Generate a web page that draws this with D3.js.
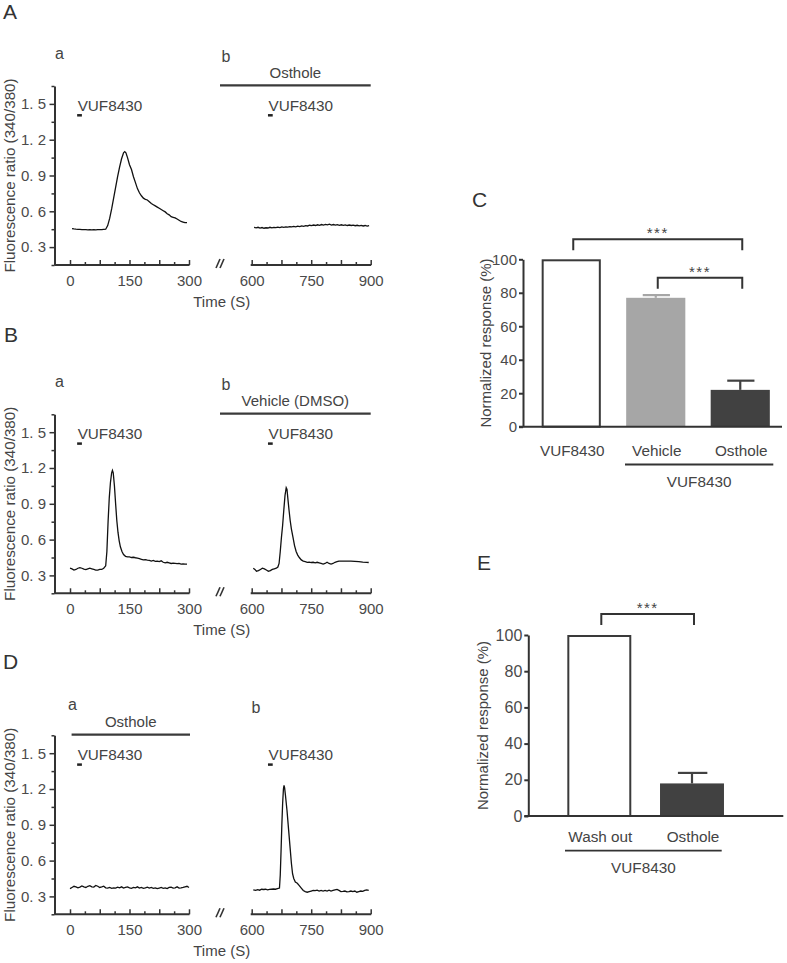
<!DOCTYPE html>
<html><head><meta charset="utf-8">
<script src="https://cdn.jsdelivr.net/npm/d3@7"></script>
<style>
body{margin:0;background:#fff}
text{font-family:"Liberation Sans",Arial,sans-serif;fill:#444}
</style>
</head><body>
<svg id="fig" width="787" height="963"></svg>
<script>
// ---------------- DATA ----------------
// Trace panels: [time (s), fluorescence ratio 340/380]
const traceAa = [[5,0.455],[10,0.452],[15,0.450],[20,0.449],[25,0.448],[30,0.447],[35,0.446],[40,0.446],[45,0.445],[50,0.446],[55,0.445],[60,0.446],[65,0.445],[70,0.446],[75,0.447],[80,0.446],[85,0.448],[90,0.450],[95,0.48],[100,0.54],[105,0.62],[110,0.71],[115,0.80],[120,0.89],[125,0.97],[130,1.04],[135,1.09],[138,1.10],[141,1.09],[145,1.05],[150,0.99],[155,0.95],[160,0.89],[165,0.84],[170,0.79],[175,0.755],[180,0.73],[185,0.71],[190,0.70],[195,0.695],[200,0.68],[205,0.665],[210,0.655],[215,0.645],[220,0.635],[225,0.625],[230,0.615],[235,0.605],[240,0.595],[245,0.58],[250,0.57],[255,0.555],[260,0.55],[265,0.545],[270,0.535],[275,0.525],[280,0.515],[285,0.51],[290,0.505],[295,0.505]];
const traceAb = [[606,0.465],[611,0.462],[616,0.466],[621,0.460],[626,0.464],[631,0.458],[636,0.462],[641,0.460],[646,0.466],[651,0.461],[656,0.465],[661,0.463],[666,0.468],[671,0.464],[676,0.469],[681,0.466],[686,0.470],[691,0.467],[696,0.472],[701,0.469],[706,0.473],[711,0.470],[716,0.475],[721,0.472],[726,0.477],[731,0.474],[736,0.480],[741,0.477],[746,0.483],[751,0.480],[756,0.485],[761,0.481],[766,0.487],[771,0.483],[776,0.489],[781,0.485],[786,0.490],[791,0.486],[796,0.492],[801,0.485],[806,0.489],[811,0.484],[816,0.488],[821,0.483],[826,0.487],[831,0.482],[836,0.486],[841,0.481],[846,0.485],[851,0.481],[856,0.484],[861,0.479],[866,0.483],[871,0.478],[876,0.482],[881,0.477],[886,0.481],[891,0.476],[896,0.480]];
const traceBa = [[0,0.36],[5,0.355],[10,0.345],[15,0.35],[20,0.36],[25,0.365],[30,0.36],[35,0.352],[40,0.348],[45,0.355],[50,0.36],[55,0.355],[60,0.35],[65,0.345],[70,0.345],[75,0.35],[80,0.35],[85,0.36],[90,0.38],[93,0.50],[96,0.75],[99,0.95],[102,1.08],[105,1.16],[107,1.18],[109,1.16],[112,1.05],[115,0.90],[118,0.76],[121,0.66],[124,0.59],[127,0.54],[131,0.50],[135,0.475],[140,0.46],[145,0.455],[150,0.455],[155,0.45],[160,0.452],[165,0.448],[170,0.445],[175,0.44],[180,0.435],[185,0.43],[190,0.432],[195,0.428],[200,0.425],[205,0.42],[210,0.425],[215,0.418],[220,0.42],[225,0.415],[230,0.422],[235,0.41],[240,0.405],[245,0.41],[250,0.405],[255,0.40],[260,0.402],[265,0.40],[270,0.398],[275,0.40],[280,0.395],[285,0.396],[290,0.394],[295,0.395]];
const traceBb = [[604,0.36],[608,0.35],[612,0.335],[617,0.34],[622,0.35],[627,0.36],[632,0.355],[637,0.345],[642,0.335],[647,0.34],[652,0.35],[657,0.355],[662,0.36],[666,0.37],[669,0.40],[672,0.50],[675,0.62],[678,0.72],[681,0.85],[684,0.97],[687,1.035],[689,1.02],[691,0.95],[694,0.85],[697,0.76],[700,0.69],[704,0.62],[708,0.55],[712,0.50],[716,0.47],[720,0.45],[725,0.43],[730,0.42],[735,0.415],[740,0.41],[745,0.412],[750,0.408],[755,0.41],[760,0.405],[765,0.41],[770,0.405],[775,0.40],[780,0.395],[785,0.40],[790,0.41],[795,0.40],[800,0.395],[805,0.40],[810,0.41],[815,0.415],[820,0.42],[830,0.42],[840,0.42],[850,0.42],[860,0.418],[870,0.415],[880,0.412],[890,0.41],[895,0.408]];
const traceDa = [[0,0.365],[5,0.375],[10,0.385],[15,0.38],[20,0.372],[25,0.378],[30,0.388],[35,0.38],[40,0.375],[45,0.385],[50,0.39],[55,0.38],[60,0.378],[65,0.392],[70,0.385],[75,0.375],[80,0.38],[85,0.386],[90,0.372],[95,0.37],[100,0.375],[105,0.368],[110,0.372],[115,0.37],[120,0.378],[125,0.372],[130,0.38],[135,0.37],[140,0.375],[145,0.38],[150,0.372],[155,0.368],[160,0.375],[165,0.372],[170,0.38],[175,0.37],[180,0.375],[185,0.368],[190,0.372],[195,0.378],[200,0.37],[205,0.375],[210,0.368],[215,0.372],[220,0.365],[225,0.37],[230,0.375],[235,0.368],[240,0.372],[245,0.365],[250,0.375],[255,0.378],[260,0.37],[265,0.372],[270,0.38],[275,0.37],[280,0.372],[285,0.375],[290,0.38],[295,0.385],[300,0.375]];
const traceDb = [[604,0.355],[610,0.35],[615,0.356],[620,0.352],[625,0.36],[630,0.358],[635,0.36],[640,0.355],[645,0.358],[650,0.36],[655,0.362],[660,0.36],[665,0.365],[670,0.37],[672,0.48],[674,0.68],[676,0.90],[678,1.08],[680,1.20],[681.5,1.23],[683,1.21],[685,1.15],[689,1.02],[693,0.86],[697,0.70],[700,0.58],[703,0.49],[706,0.45],[710,0.42],[715,0.41],[720,0.39],[725,0.37],[730,0.35],[735,0.34],[740,0.335],[745,0.34],[750,0.345],[755,0.35],[760,0.348],[765,0.352],[770,0.345],[775,0.35],[780,0.345],[785,0.35],[790,0.345],[795,0.352],[800,0.345],[805,0.35],[810,0.355],[815,0.358],[820,0.35],[825,0.34],[830,0.342],[835,0.345],[840,0.338],[845,0.34],[850,0.345],[855,0.34],[860,0.345],[865,0.335],[870,0.34],[875,0.345],[880,0.342],[885,0.35],[890,0.355],[895,0.35]];

// VUF8430 application windows (s)
const vufWindowA = [18, 30];
const vufWindowB = [641, 653];

// Trace axis ticks
const yTicks = [0.3, 0.6, 0.9, 1.2, 1.5];
const yTickLabels = ["0. 3", "0. 6", "0. 9", "1. 2", "1. 5"];
const yMinorTicks = [0.15, 0.45, 0.75, 1.05, 1.35, 1.65];
const xTicksA = [0, 75, 150, 225, 300];
const xMinorA = [37.5, 112.5, 187.5, 262.5];
const xLabeledA = [0, 150, 300];
const xTicksB = [600, 675, 750, 825, 900];
const xMinorB = [637.5, 712.5, 787.5, 862.5];
const xLabeledB = [600, 750, 900];

// Bar charts
const barCatsC = ["VUF8430", "Vehicle", "Osthole"];
const barValsC = [100, 77, 22];
const barErrC = [0, 1.6, 5.5];
const barFillC = ["#ffffff", "#a6a6a6", "#414141"];
const barCatsE = ["Wash out", "Osthole"];
const barValsE = [100, 18];
const barErrE = [0, 5.8];
const barFillE = ["#ffffff", "#414141"];
const barTicks = [0, 20, 40, 60, 80, 100];

// ---------------- DRAW ----------------
const svg = d3.select("#fig");
const AX = "#333";

function letter(x, y, t) {
  svg.append("text").attr("x", x).attr("y", y).attr("font-size", 21).style("fill", "#333").text(t);
}

const xa = d3.scaleLinear().domain([0, 300]).range([70, 189]);
const xb = d3.scaleLinear().domain([600, 900]).range([251.7, 370.7]);
const y = d3.scaleLinear().domain([0.15, 1.65]).range([265, 86]);
const line = (xs) => d3.line().x(d => xs(d[0])).y(d => y(d[1]));

function tracePanel(dy, cfg) {
  const g = svg.append("g").attr("transform", `translate(0,${dy})`);
  // y axis
  const yAx = g.append("g").attr("transform", "translate(54.5,0)")
    .call(d3.axisLeft(y).tickValues(yTicks).tickFormat((d, i) => yTickLabels[i]).tickSize(5).tickPadding(3.5).tickSizeOuter(0));
  const yMin = g.append("g").attr("transform", "translate(54.5,0)")
    .call(d3.axisLeft(y).tickValues(yMinorTicks).tickFormat("").tickSize(3));
  yMin.select(".domain").remove();
  [yAx, yMin].forEach(a => {
    a.select(".domain").attr("stroke", AX).attr("stroke-width", 2);
    a.selectAll(".tick line").attr("stroke", AX).attr("stroke-width", 1.5);
    a.selectAll(".tick text").attr("font-size", 15).style("fill", "#4a4a4a").attr("font-family", null);
  });
  // x axes
  function xAxis(xs, major, minor, labeled, x0) {
    const base = y(0.15);
    g.append("line").attr("x1", x0).attr("x2", xs.range()[1] + 0.5).attr("y1", base).attr("y2", base)
      .attr("stroke", AX).attr("stroke-width", 2);
    const a = g.append("g").attr("transform", `translate(0,${base})`)
      .call(d3.axisBottom(xs).tickValues(major).tickFormat(d => labeled.includes(d) ? String(d) : "").tickSize(-5).tickPadding(10.5));
    const m = g.append("g").attr("transform", `translate(0,${base})`)
      .call(d3.axisBottom(xs).tickValues(minor).tickFormat("").tickSize(-3));
    [a, m].forEach(s => {
      s.select(".domain").remove();
      s.selectAll(".tick line").attr("stroke", AX).attr("stroke-width", 1.5);
      s.selectAll(".tick text").attr("font-size", 15).style("fill", "#4a4a4a").attr("font-family", null);
    });
  }
  xAxis(xa, xTicksA, xMinorA, xLabeledA, 54.5);
  xAxis(xb, xTicksB, xMinorB, xLabeledB, xb(600) - 1);
  // axis break
  [0, 4].forEach(o => g.append("line")
    .attr("x1", 216 + o).attr("y1", 268).attr("x2", 220 + o).attr("y2", 259)
    .attr("stroke", AX).attr("stroke-width", 1.6));
  // labels
  g.append("text").attr("x", 221.7).attr("y", 306.5).attr("text-anchor", "middle").attr("font-size", 15).text("Time (S)");
  g.append("text").attr("transform", "translate(14.5,175.5) rotate(-90)").attr("text-anchor", "middle")
    .attr("font-size", 15.2).text("Fluorescence ratio (340/380)");
  g.append("text").attr("x", cfg.aX).attr("y", cfg.aY).attr("font-size", 16).text("a");
  g.append("text").attr("x", cfg.bX).attr("y", cfg.bY).attr("font-size", 16).text("b");
  // pretreatment bar
  const pt = cfg.pre;
  g.append("line").attr("x1", pt.x0).attr("x2", pt.x1).attr("y1", 85.3).attr("y2", 85.3)
    .attr("stroke", "#3a3a3a").attr("stroke-width", 2.3);
  g.append("text").attr("x", (pt.x0 + pt.x1) / 2).attr("y", 78).attr("text-anchor", "middle")
    .attr("font-size", 15).text(pt.label);
  // VUF8430 application marks
  [[xa, vufWindowA], [xb, vufWindowB]].forEach(([xs, w]) => {
    g.append("line").attr("x1", xs(w[0])).attr("x2", xs(w[1])).attr("y1", 115.3).attr("y2", 115.3)
      .attr("stroke", "#222").attr("stroke-width", 2.5);
    g.append("text").attr("x", xs(w[0]) + 0.5).attr("y", 110.7).attr("font-size", 15.3).text("VUF8430");
  });
  // traces
  g.append("path").datum(cfg.ta).attr("d", line(xa)).attr("fill", "none").attr("stroke", "#111").attr("stroke-width", 1.3);
  g.append("path").datum(cfg.tb).attr("d", line(xb)).attr("fill", "none").attr("stroke", "#111").attr("stroke-width", 1.3);
}

letter(3, 19, "A");
tracePanel(0, { ta: traceAa, tb: traceAb, aX: 55, aY: 58.5, bX: 221.5, bY: 61.5,
  pre: { x0: 220, x1: xb(900), label: "Osthole" } });
letter(4, 342, "B");
tracePanel(328.3, { ta: traceBa, tb: traceBb, aX: 55, aY: 58.5, bX: 221.5, bY: 61.5,
  pre: { x0: 220, x1: xb(900), label: "Vehicle (DMSO)" } });
letter(3, 668.5, "D");
tracePanel(649.3, { ta: traceDa, tb: traceDb, aX: 68, aY: 61, bX: 251.5, bY: 64,
  pre: { x0: xa(4), x1: xa(300) + 1, label: "Osthole" } });

// ---------- bar charts ----------
function barPanel(cfg) {
  const g = svg.append("g");
  const ys = d3.scaleLinear().domain([0, 100]).range([cfg.y0, cfg.y100]);
  const xs = d3.scaleBand().domain(cfg.cats).range(cfg.xRange).paddingInner(cfg.pi).paddingOuter(cfg.po);
  const bw = xs.bandwidth();
  // bars
  cfg.cats.forEach((c, i) => {
    const white = cfg.fills[i] === "#ffffff";
    const top = ys(cfg.vals[i]);
    g.append("rect").attr("x", xs(c) + (white ? 1 : 0)).attr("y", top + (white ? 1 : 0))
      .attr("width", bw - (white ? 2 : 0)).attr("height", cfg.y0 - top - (white ? 1 : 0))
      .attr("fill", cfg.fills[i]).attr("stroke", white ? "#3a3a3a" : "none").attr("stroke-width", 2);
    if (cfg.errs[i] > 0) {
      const cx = xs(c) + bw / 2, ey = ys(cfg.vals[i] + cfg.errs[i]);
      g.append("line").attr("x1", cx).attr("x2", cx).attr("y1", top).attr("y2", ey)
        .attr("stroke", cfg.fills[i]).attr("stroke-width", 2.2);
      g.append("line").attr("x1", cx - bw * 0.22).attr("x2", cx + bw * 0.24).attr("y1", ey).attr("y2", ey)
        .attr("stroke", cfg.fills[i]).attr("stroke-width", 2.2);
    }
  });
  // axes
  const ax = g.append("g").attr("transform", `translate(${cfg.axX},0)`)
    .call(d3.axisLeft(ys).tickValues(barTicks).tickSize(4).tickPadding(2).tickSizeOuter(0));
  ax.select(".domain").attr("stroke", AX).attr("stroke-width", 2);
  ax.selectAll(".tick line").attr("stroke", AX).attr("stroke-width", 2);
  ax.selectAll(".tick text").attr("font-size", cfg.tickFont).style("fill", "#4a4a4a").attr("font-family", null);
  g.append("line").attr("x1", cfg.axX - 4).attr("x2", cfg.xEnd).attr("y1", cfg.y0).attr("y2", cfg.y0)
    .attr("stroke", AX).attr("stroke-width", 2);
  g.append("text").attr("transform", `translate(${cfg.labX},${(cfg.y0 + cfg.y100) / 2}) rotate(-90)`)
    .attr("text-anchor", "middle").attr("font-size", 15).text("Normalized response (%)");
  // category labels
  cfg.cats.forEach(c => g.append("text").attr("x", xs(c) + bw / 2 + 1).attr("y", cfg.catY)
    .attr("text-anchor", "middle").attr("font-size", 15.3).text(c));
  const u = cfg.under;
  g.append("line").attr("x1", u[0]).attr("x2", u[1]).attr("y1", cfg.catY + 9).attr("y2", cfg.catY + 9)
    .attr("stroke", AX).attr("stroke-width", 1.8);
  g.append("text").attr("x", (u[0] + u[1]) / 2).attr("y", cfg.catY + 31).attr("text-anchor", "middle")
    .attr("font-size", 15.3).text("VUF8430");
  // significance brackets
  cfg.brackets.forEach(b => {
    const x1 = xs(cfg.cats[b.a]) + bw / 2 + 2, x2 = xs(cfg.cats[b.b]) + bw / 2 + 2;
    g.append("path").attr("d", `M${x1},${b.y + 11}V${b.y}H${x2}V${b.y + 11}`)
      .attr("fill", "none").attr("stroke", AX).attr("stroke-width", 2);
    g.append("text").attr("x", (x1 + x2) / 2).attr("y", b.y - 1).attr("text-anchor", "middle")
      .attr("font-size", 15).attr("letter-spacing", 1.5).text("***");
  });
}

letter(472, 207, "C");
barPanel({ cats: barCatsC, vals: barValsC, errs: barErrC, fills: barFillC,
  y0: 426.7, y100: 259.3, xRange: [529, 782.5], pi: 0.3, po: 0.15, axX: 523, xEnd: 782,
  tickFont: 15, labX: 490.5, catY: 455.5, under: [625, 773.3],
  brackets: [{ a: 0, b: 2, y: 239.3 }, { a: 1, b: 2, y: 277.7 }] });

letter(477, 569.5, "E");
barPanel({ cats: barCatsE, vals: barValsE, errs: barErrE, fills: barFillE,
  y0: 816, y100: 635, xRange: [528.3, 763], pi: 0.31, po: 0.421, axX: 528.3, xEnd: 783.3,
  tickFont: 16, labX: 487.5, catY: 841.7, under: [565, 721.7],
  brackets: [{ a: 0, b: 1, y: 614 }] });
</script>
</body></html>
